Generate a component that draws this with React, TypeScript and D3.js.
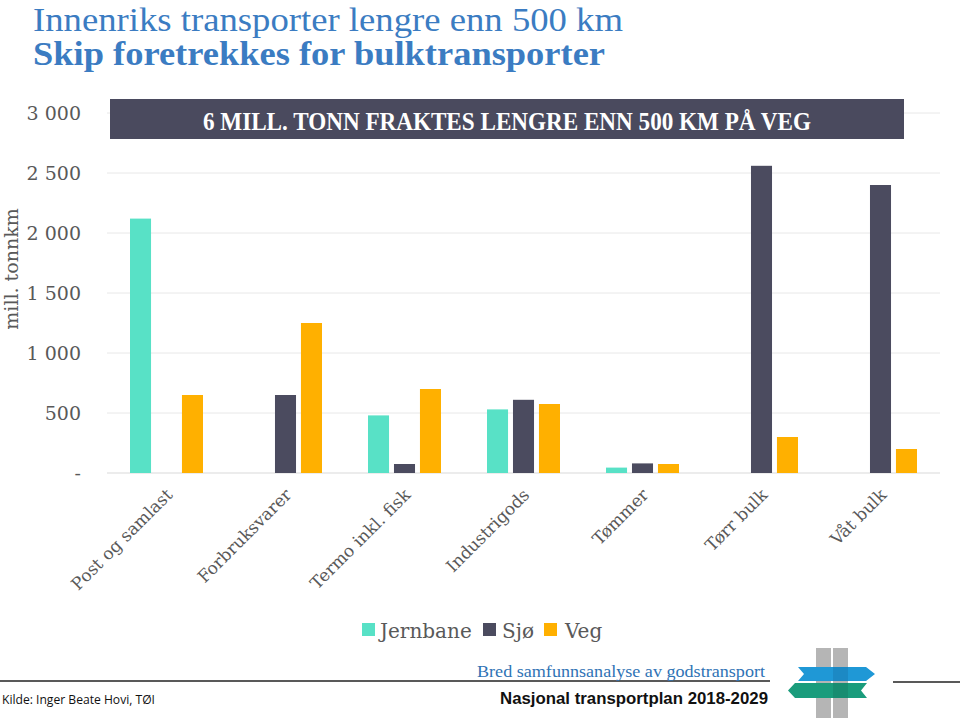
import React from "react";
import * as d3 from "d3";

const categories = ["Post og samlast", "Forbruksvarer", "Termo inkl. fisk", "Industrigods", "Tømmer", "Tørr bulk", "Våt bulk"];
const seriesNames = ["Jernbane", "Sjø", "Veg"];
const jernbane: (number | null)[] = [2120, null, 480, 530, 45, null, null];
const sjo: (number | null)[] = [null, 650, 75, 610, 80, 2560, 2400];
const veg: (number | null)[] = [650, 1250, 700, 575, 75, 300, 200];
const seriesColors = ["#58e1c6", "#4b4b5f", "#ffb000"];
const yTicks = [0, 500, 1000, 1500, 2000, 2500, 3000];
const title1 = "Innenriks transporter lengre enn 500 km";
const title2 = "Skip foretrekkes for bulktransporter";
const bannerText = "6 MILL. TONN FRAKTES LENGRE ENN 500 KM PÅ VEG";
const yTitle = "mill. tonnkm";
const sourceText = "Kilde: Inger Beate Hovi, TØI";
const footer1 = "Bred samfunnsanalyse av godstransport";
const footer2 = "Nasjonal transportplan 2018-2029";

const serif = "'DejaVu Serif', serif";
const gray = "#595959";

export default function App() {
  const W = 960, H = 720;
  const x0 = 107, x1 = 940;
  const yBottom = 473, yTop = 113;
  const x = d3.scaleBand<string>().domain(categories).range([x0, x1]).padding(0);
  const y = d3.scaleLinear().domain([0, 3000]).range([yBottom, yTop]);
  const inner = d3.scaleBand<string>().domain(seriesNames).range([-36.5, 36.5]).paddingInner(0.19).paddingOuter(0);
  const data = [jernbane, sjo, veg];
  const fmt = (v: number) => (v === 0 ? "-" : d3.format(",")(v).replace(/,/g, " "));

  const legendItems = [
    { name: seriesNames[0], sx: 362, tx: 380 },
    { name: seriesNames[1], sx: 483, tx: 502 },
    { name: seriesNames[2], sx: 544, tx: 565 },
  ];

  return (
    <svg width={W} height={H} style={{ position: "absolute", left: 0, top: 0, background: "#fff" }}>
      <rect x={0} y={0} width={W} height={H} fill="#fff" />
      {/* Titles */}
      <text x={33} y={31} fontFamily="'Liberation Serif', serif" fontSize={34} fill="#3b7cc2" textLength={590} lengthAdjust="spacingAndGlyphs">{title1}</text>
      <text x={33} y={65} fontFamily="'Liberation Serif', serif" fontWeight="bold" fontSize={34} fill="#3b7cc2" textLength={572} lengthAdjust="spacingAndGlyphs">{title2}</text>

      {/* Gridlines */}
      {yTicks.map((t) => (
        <line key={"g" + t} x1={x0} x2={x1} y1={y(t)} y2={y(t)} stroke={t === 0 ? "#d9d9d9" : "#e8e8e8"} strokeWidth={1} />
      ))}
      {/* Y tick labels */}
      {yTicks.map((t) => (
        <text key={"t" + t} x={81} y={y(t) + 7} textAnchor="end" fontFamily={serif} fontSize={19} fill={gray}>{fmt(t)}</text>
      ))}
      <text transform={`translate(18,269) rotate(-90)`} x={0} y={0} textAnchor="middle" fontFamily={serif} fontSize={19} fill={gray}>{yTitle}</text>

      {/* Bars */}
      {categories.map((c, ci) => (
        <g key={c}>
          {seriesNames.map((s, si) => {
            const v = data[si][ci];
            if (v == null) return null;
            const cx = (x(c) as number) + x.bandwidth() / 2;
            return (
              <rect key={s} x={cx + (inner(s) as number)} y={y(v)} width={inner.bandwidth()} height={y(0) - y(v)} fill={seriesColors[si]} />
            );
          })}
        </g>
      ))}

      {/* Banner */}
      <rect x={110} y={99} width={794} height={40} fill="#4a4a5e" />
      <text x={507} y={130} textAnchor="middle" fontFamily="'Liberation Serif', serif" fontWeight="bold" fontSize={26} fill="#fff" textLength={608} lengthAdjust="spacingAndGlyphs">{bannerText}</text>

      {/* X labels */}
      {categories.map((c) => {
        const cx = (x(c) as number) + x.bandwidth() / 2;
        return (
          <text key={"xl" + c} transform={`translate(${cx + 7},${496}) rotate(-45)`} textAnchor="end" fontFamily={serif} fontSize={17} fill={gray}>{c}</text>
        );
      })}

      {/* Legend */}
      {legendItems.map((it, i) => (
        <g key={it.name}>
          <rect x={it.sx} y={623} width={13} height={13} fill={seriesColors[i]} />
          <text x={it.tx} y={638} fontFamily={serif} fontSize={20} fill={gray}>{it.name}</text>
        </g>
      ))}

      {/* Footer */}
      <line x1={0} x2={770} y1={681} y2={681} stroke="#222" strokeWidth={1.5} />
      <line x1={893} x2={960} y1={682} y2={682} stroke="#222" strokeWidth={1.5} />
      <text x={2} y={704} fontFamily="'Open Sans', sans-serif" fontSize={13} fill="#111" textLength={153} lengthAdjust="spacingAndGlyphs">{sourceText}</text>
      <text x={477} y={677} fontFamily="'Liberation Serif', serif" fontSize={17} fill="#2f73b5" textLength={288} lengthAdjust="spacingAndGlyphs">{footer1}</text>
      <text x={500} y={704} fontFamily="'Liberation Sans', sans-serif" fontWeight="bold" fontSize={17} fill="#111" textLength={268} lengthAdjust="spacingAndGlyphs">{footer2}</text>

      {/* Logo */}
      <g>
        <rect x={816} y={648} width={15} height={70} fill="#b5b5b5" />
        <rect x={833} y={648} width={15} height={70} fill="#b5b5b5" />
        <polygon points="798,667 866,667 875,674 866,681 798,681 804,674" fill="#1f98d6" />
        <polygon points="795,683 867,683 861,690.5 867,698 795,698 788,690.5" fill="#1a9c7c" />
        <polygon points="833,667 848,667 848,681 833,681" fill="#1a7fb8" opacity={0.6} />
        <polygon points="833,683 848,683 848,698 833,698" fill="#17836a" opacity={0.6} />
      </g>
    </svg>
  );
}
